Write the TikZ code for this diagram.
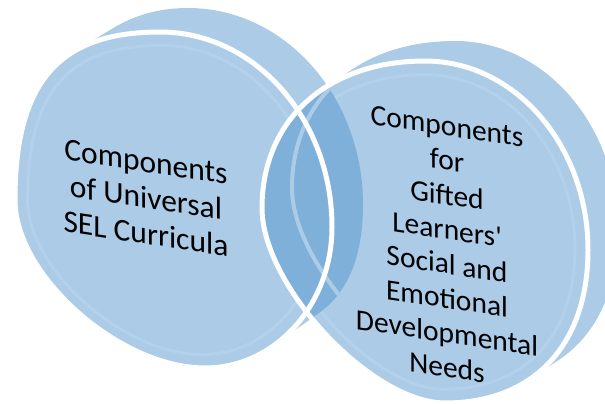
\documentclass[tikz,border=0pt]{standalone}
\usepackage{fontspec}
\setmainfont{Carlito}[Ligatures=TeXOff]
\definecolor{discfill}{RGB}{171,203,231}
\definecolor{lensfill}{RGB}{126,176,217}
\definecolor{ringcol}{RGB}{180,209,236}
\begin{document}
\begin{tikzpicture}[x=1pt,y=-1pt,
  leftdisc/.style={insert path={({160+28*#1},{32-24*#1})
     .. controls ({255+29.7*#1},{32-24*#1}) and ({332+31*#1},{119.3-23.1*#1}) .. ({332+31*#1},{227-22*#1})
     .. controls ({332+31*#1},{304.9-17.3*#1}) and ({275.1+48.4*#1},{368-36*#1}) .. ({205+45*#1},{368-36*#1})
     .. controls ({119.5+36.9*#1},{368-36*#1}) and ({15+27*#1},{275.6-28.3*#1}) .. ({15+27*#1},{200-22*#1})
     .. controls ({15+27*#1},{82.4-6.4*#1}) and ({58.5+41.9*#1},{32-24*#1}) .. ({160+28*#1},{32-24*#1}) -- cycle}},
  rightdisc/.style={insert path={({425+30*#1},{61-20*#1})
     .. controls ({515+30*#1},{61-20*#1}) and ({588+30*#1},{145.6-20*#1}) .. ({588+30*#1},{250-20*#1})
     .. controls ({588+30*#1},{344.9-20*#1}) and ({533.7+30*#1},{403-20*#1}) .. ({445+30*#1},{403-20*#1})
     .. controls ({371.8+30*#1},{403-20*#1}) and ({262+30*#1},{286-20*#1}) .. ({262+30*#1},{208-20*#1})
     .. controls ({262+30*#1},{119.8-20*#1}) and ({327.2+30*#1},{61-20*#1}) .. ({425+30*#1},{61-20*#1}) -- cycle}},
  whiteline/.style={draw=white, line width=5pt},
  backedge/.style={draw=discfill, line width=4pt},
  ringline/.style={draw=ringcol, line width=3pt},
  lbl/.style={align=center, text=black, yslant=-0.15, inner sep=0pt}]
\useasboundingbox (0,0) rectangle (605,404);
% solid discs (front face swept to back face)
\fill[discfill] foreach \t in {0,...,10} {[leftdisc={\t/10}]};
\fill[discfill] foreach \t in {0,...,10} {[rightdisc={\t/10}]};
% faint inner rings on the front faces
\begin{scope}[shift={(173,200)}, scale=0.92, shift={(-173,-200)}]
  \path[ringline][leftdisc=0];
\end{scope}
\begin{scope}[shift={(425,232)}, scale=0.92, shift={(-425,-232)}]
  \path[ringline][rightdisc=0];
\end{scope}
% overlap
\begin{scope}
  \clip foreach \t in {0,...,10} {[leftdisc={\t/10}]};
  \fill[lensfill] foreach \t in {0,...,10} {[rightdisc={\t/10}]};
  \path[backedge][rightdisc=1];
\end{scope}
% white front outlines
\path[whiteline][leftdisc=0];
\path[whiteline][rightdisc=0];
% labels
\node[lbl, font=\fontsize{31.5}{36}\selectfont] (lefttext) at (146,198)
  {Components\\of Universal\\SEL Curricula};
\node[lbl, font=\fontsize{29.5}{34.5}\selectfont] (righttext) at (447,247)
  {Components\\for\\Gifted\\Learners'\\Social and\\Emotional\\Developmental\\Needs};
\end{tikzpicture}
\end{document}
